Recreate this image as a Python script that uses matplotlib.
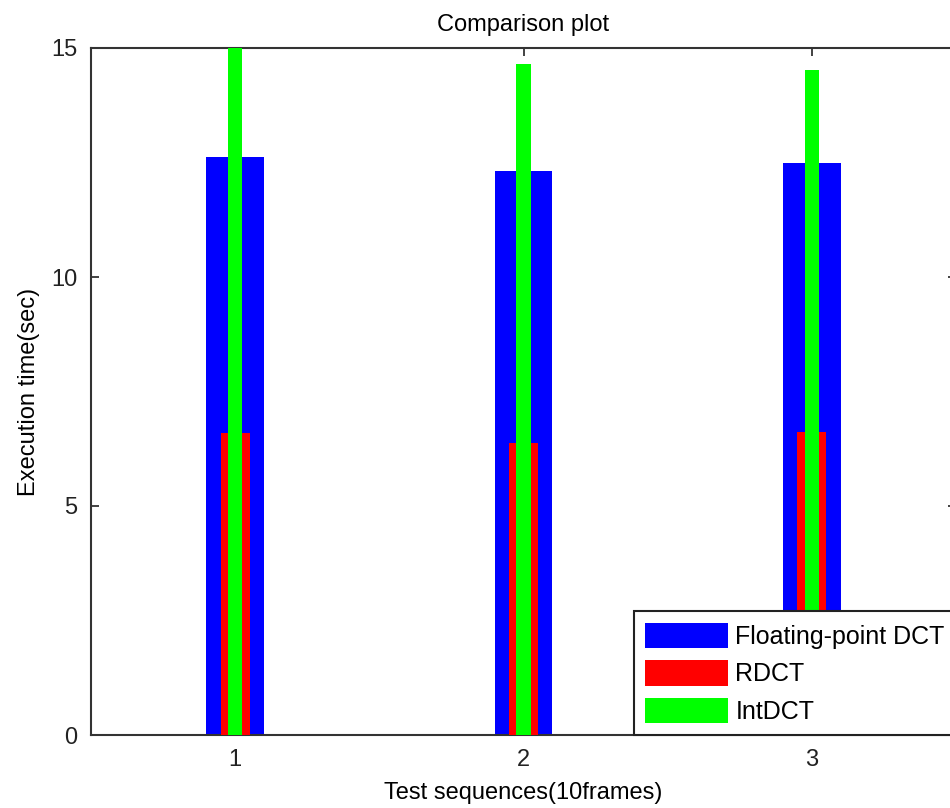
import matplotlib
matplotlib.use("Agg")
import matplotlib.pyplot as plt
import numpy as np

# Execution time per test sequence (seconds)
sequences = [1, 2, 3]
floating_dct = [12.63, 12.31, 12.48]
rdct = [6.59, 6.38, 6.62]
int_dct = [15.1, 14.65, 14.53]
series_names = ["Floating-point DCT", "RDCT", "IntDCT"]
y_ticks = [0, 5, 10, 15]

plt.rcParams["font.family"] = ["Liberation Sans", "DejaVu Sans"]
plt.rcParams["font.size"] = 17

fig = plt.figure(figsize=(9.5, 8.08), dpi=100)
ax = fig.add_axes([91 / 950, 73 / 808, 865 / 950, 687 / 808])

x = np.array(sequences)
ax.bar(x, floating_dct, width=0.2, color="#0000ff", label=series_names[0], zorder=2)
ax.bar(x, rdct, width=0.1, color="#ff0000", label=series_names[1], zorder=3)
ax.bar(x, int_dct, width=0.05, color="#00ff00", label=series_names[2], zorder=4)

ax.set_xlim(0.5, 3.5)
ax.set_ylim(0, 15)
ax.set_xticks(sequences)
ax.set_yticks(y_ticks)
ax.tick_params(direction="in", length=6, width=1.2, top=True, right=True,
               colors="#222222", labelsize=17, pad=10)
for s in ax.spines.values():
    s.set_linewidth(1.5)
    s.set_color("#333333")

ax.set_title("Comparison plot", fontsize=17, pad=12)
ax.set_xlabel("Test sequences(10frames)", fontsize=17, labelpad=8)
ax.set_ylabel("Execution time(sec)", fontsize=17, labelpad=8)

leg = ax.legend(loc="lower right", fontsize=18, frameon=True, fancybox=False,
                framealpha=1, borderaxespad=0, handlelength=3.3, handleheight=1.2,
                handletextpad=0.3, labelspacing=0.45, borderpad=0.45)
leg.get_frame().set_edgecolor("#222222")
leg.get_frame().set_linewidth(1.5)
leg.set_zorder(10)

fig.savefig("out.png", dpi=100)
